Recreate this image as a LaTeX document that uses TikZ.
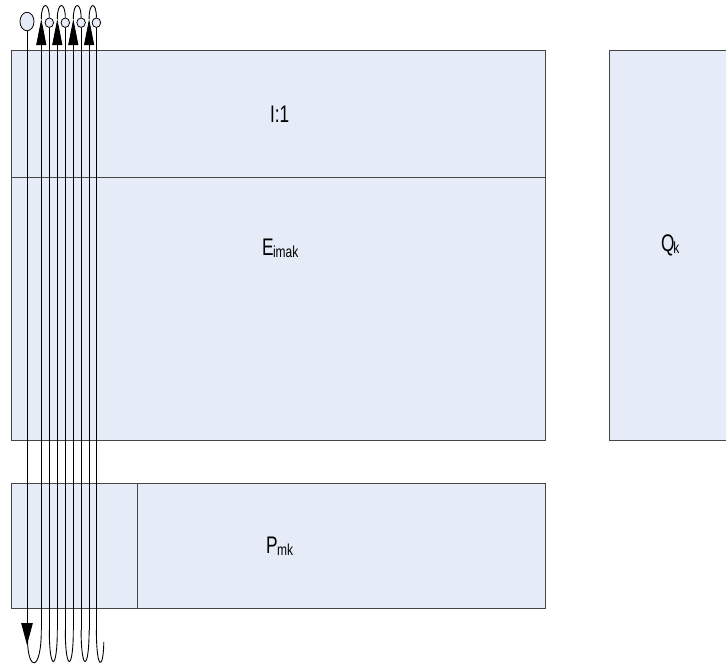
\documentclass[tikz,border=0pt]{standalone}
\usepackage{fontspec}
\setmainfont{Liberation Sans}
\usepackage{graphicx}
\usetikzlibrary{shapes.geometric,arrows.meta}
\definecolor{boxfill}{RGB}{230,236,247}
\definecolor{boxline}{RGB}{70,70,70}
\newcommand{\cnd}[1]{\scalebox{0.72}[1]{#1}}
\newcommand{\mainf}{\fontsize{24}{26}\selectfont}
\newcommand{\subf}[1]{\raisebox{-2.5pt}{\fontsize{16}{18}\selectfont\scalebox{0.75}[1]{#1}}}
\tikzset{
  panel/.style={draw=boxline, fill=boxfill, line width=0.9pt},
  divider/.style={draw=boxline, line width=0.9pt},
  lbl/.style={inner sep=0pt, outer sep=0pt, anchor=base west, font=\mainf},
  bigstart/.style={ellipse, draw=black, fill=boxfill, line width=0.8pt, inner sep=0pt, minimum width=14pt, minimum height=18.5pt},
  smallstart/.style={ellipse, draw=black, fill=boxfill, line width=0.8pt, inner sep=0pt, minimum width=8.5pt, minimum height=9.5pt},
  scan/.style={draw=black, line width=0.9pt},
  uptip/.style={scan, -{Triangle[width=10pt,length=26pt]}},
  downtip/.style={scan, -{Triangle[width=11.5pt,length=22pt]}}
}
\begin{document}
\begin{tikzpicture}[x=1pt,y=-1pt]
\useasboundingbox (0,0) rectangle (726,664);
% panels
\path[panel] (11.5,50.5) rectangle (545.5,440.5);
\path[panel] (609.5,50.5) rectangle (740,440.5);
\path[panel] (11.5,483.5) rectangle (545.5,608.5);
\coordinate (dl) at (11.5,177.5);
\coordinate (dr) at (545.5,177.5);
\draw[divider] (dl) -- (dr);
\coordinate (pt) at (137.5,483.5);
\coordinate (pb) at (137.5,608.5);
\draw[divider] (pt) -- (pb);
% labels
\node[lbl] (t1) at (270,122) {\cnd{I:1}};
\node[lbl] (te) at (262,255) {\cnd{E}\kern-0.5pt\subf{imak}};
\node[lbl] (tq) at (661,251) {\cnd{Q}\kern-1pt\subf{k}};
\node[lbl] (tp) at (266,553) {\cnd{P}\kern-0.5pt\subf{mk}};
% start circles
\node[bigstart] (s0) at (27,21.5) {};
\node[smallstart] (s1) at (49.3,22.7) {};
\node[smallstart] (s2) at (65.3,22.7) {};
\node[smallstart] (s3) at (81.1,22.7) {};
\node[smallstart] (s4) at (96.4,22.7) {};
% bottom and top coordinates
\coordinate (d0) at (27,645);
\foreach \n/\x in {1/41.3,2/57.3,3/73.3,4/89.1}{
  \coordinate (ub\n) at (\x,630);
  \coordinate (ut\n) at (\x,19);
}
\foreach \n/\x in {1/49.3,2/65.3,3/81.1,4/96.4}{
  \coordinate (db\n) at (\x,630);
}
\coordinate (u0) at (27.5,640);
\coordinate (e0) at (103.8,642);
% first descending line
\draw[downtip] (s0.south) -- (d0);
% descending lines from small circles
\foreach \n in {1,2,3,4}{
  \draw[scan] (s\n.south) -- (db\n);
}
% ascending lines with arrows
\foreach \n in {1,2,3,4}{
  \draw[uptip] (ub\n) -- (ut\n);
}
% top arches
\draw[scan] (ut1) .. controls ([yshift=18pt]ut1) and ([yshift=16pt]s1.north) .. (s1.north);
\draw[scan] (ut2) .. controls ([yshift=18pt]ut2) and ([yshift=16pt]s2.north) .. (s2.north);
\draw[scan] (ut3) .. controls ([yshift=18pt]ut3) and ([yshift=16pt]s3.north) .. (s3.north);
\draw[scan] (ut4) .. controls ([yshift=18pt]ut4) and ([yshift=16pt]s4.north) .. (s4.north);
% bottom U-turns
\draw[scan] (u0) .. controls (28,672) and (41.3,672) .. (ub1);
\draw[scan] (db1) .. controls (49.3,672) and (57.3,672) .. (ub2);
\draw[scan] (db2) .. controls (65.3,672) and (73.3,672) .. (ub3);
\draw[scan] (db3) .. controls (81.1,672) and (89.1,672) .. (ub4);
\draw[scan] (db4) .. controls (96.4,672) and (103.5,670) .. (e0);
\end{tikzpicture}
\end{document}
